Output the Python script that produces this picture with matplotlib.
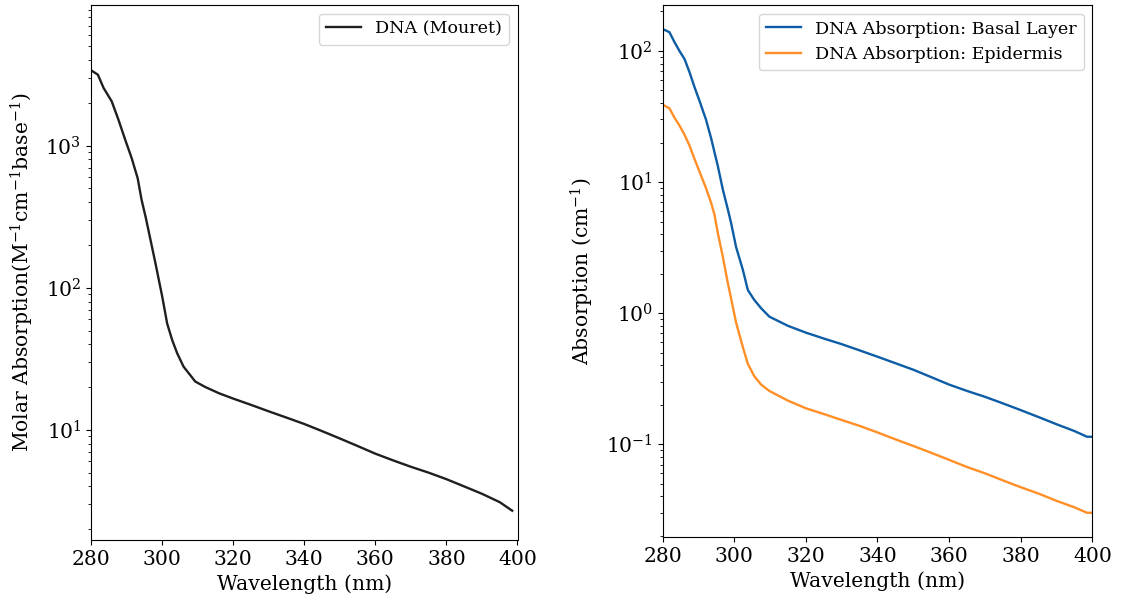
import numpy as np
import matplotlib
matplotlib.use("Agg")
import matplotlib.pyplot as plt

plt.rcParams['font.family'] = 'DejaVu Serif'
plt.rcParams['mathtext.fontset'] = 'dejavuserif'

# DNA molar absorption (Mouret)
wl_mouret = [280, 281.9, 283.5, 285.8, 287.7, 289.6, 291.4, 293.1, 294.2, 295.4, 298.1, 300,
             301.4, 302.8, 304.2, 306, 309.3, 312, 316, 320, 325, 330, 335, 340, 345, 350,
             355, 360, 365, 370, 375, 380, 385, 390, 395, 398.5]
eps_mouret = [3390, 3160, 2550, 2050, 1520, 1100, 819, 590, 416, 310, 149, 87,
              56, 43, 34.7, 27.9, 21.9, 20.1, 18.1, 16.6, 15.0, 13.5, 12.2, 11.0, 9.8, 8.7,
              7.7, 6.8, 6.1, 5.5, 5.0, 4.5, 4.0, 3.55, 3.1, 2.7]

# DNA absorption in skin layers
wl_skin = [280, 281.9, 283.3, 284.7, 286.1, 287.5, 288.9, 290.3, 292.1, 293.5, 294.5, 295.4,
           296.8, 298.2, 299.1, 300.5, 302.4, 303.8, 305.6, 307.5, 309.8, 315, 320, 325,
           330, 335, 340, 345, 350, 355, 360, 365, 370, 375, 380, 385, 390, 395, 398.5, 400]
abs_basal = [147, 139, 117, 100, 87, 69, 53, 41.6, 30, 21.8, 16.8, 13.3,
             8.8, 6.2, 4.9, 3.2, 2.14, 1.5, 1.26, 1.09, 0.94, 0.80, 0.71, 0.64,
             0.58, 0.52, 0.465, 0.415, 0.37, 0.325, 0.285, 0.255, 0.23, 0.205, 0.182, 0.161, 0.142, 0.126, 0.114, 0.114]
abs_epi = [39, 36.5, 31, 27, 23, 19, 15, 12, 9.0, 7.0, 5.6, 4.1,
           2.7, 1.7, 1.3, 0.85, 0.55, 0.41, 0.33, 0.285, 0.255, 0.215, 0.188, 0.17,
           0.153, 0.138, 0.123, 0.109, 0.097, 0.086, 0.076, 0.067, 0.060, 0.053, 0.047, 0.042, 0.037, 0.033, 0.030, 0.030]

fig = plt.figure(figsize=(11.25, 6.04), dpi=100)
ax1 = fig.add_axes([0.081, 0.106, 0.379, 0.886])
ax2 = fig.add_axes([0.589, 0.111, 0.382, 0.881])

fs = 14.6

ax1.plot(wl_mouret, eps_mouret, color='#1f1f1f', lw=1.7, label='DNA (Mouret)')
ax1.set_yscale('log')
ax1.set_xlim(280, 400)
ax1.set_ylim(1.68, 9800)
ax1.set_xlabel('Wavelength (nm)', fontsize=fs)
ax1.set_ylabel(r'Molar Absorption(M$^{-1}$cm$^{-1}$base$^{-1}$)', fontsize=fs, labelpad=7)
ax1.legend(loc='upper right', fontsize=12.6)

ax2.plot(wl_skin, abs_basal, color='#0C5DA5', lw=1.7, label='DNA Absorption: Basal Layer')
ax2.plot(wl_skin, abs_epi, color='#FF8F26', lw=1.7, label='DNA Absorption: Epidermis')
ax2.set_yscale('log')
ax2.set_xlim(280, 400)
ax2.set_xlabel('Wavelength (nm)', fontsize=fs)
ax2.set_ylabel(r'Absorption (cm$^{-1}$)', fontsize=fs, labelpad=7)
ax2.legend(loc='upper right', fontsize=12.6)

for ax in (ax1, ax2):
    ax.tick_params(labelsize=fs)

fig.savefig('out.png', dpi=100)
